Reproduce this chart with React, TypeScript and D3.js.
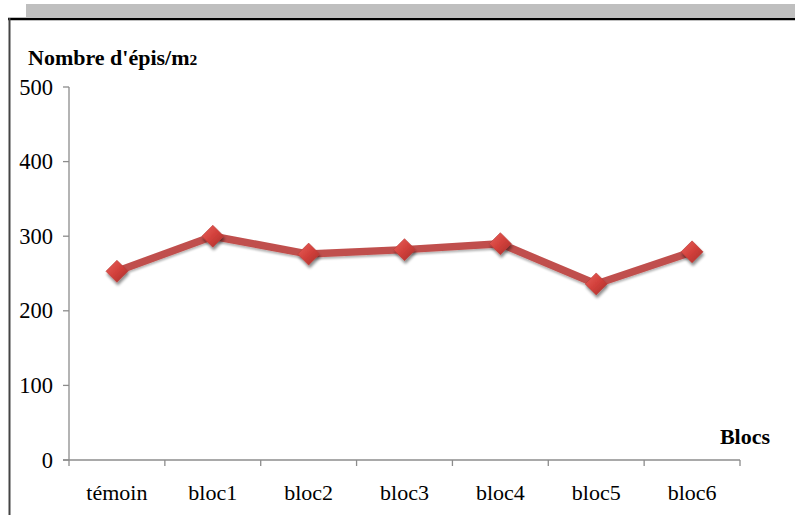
import React from "react";
import * as d3 from "d3";

const categories = ["témoin", "bloc1", "bloc2", "bloc3", "bloc4", "bloc5", "bloc6"];
const values = [253, 300, 276, 282, 290, 236, 279];
const yTicks = [0, 100, 200, 300, 400, 500];

export default function App() {
  const W = 795, H = 515;
  const x0 = 69, x1 = 740, yTop = 87, yBot = 460;
  const x = d3.scaleBand().domain(categories).range([x0, x1]);
  const y = d3.scaleLinear().domain([0, 500]).range([yBot, yTop]);
  const line = d3.line<number>()
    .x((_, i) => (x(categories[i]) as number) + x.bandwidth() / 2)
    .y((d) => y(d));
  const ticksX = categories.map((c) => x(c) as number).concat([x1]);
  const font = "'Liberation Serif', 'Times New Roman', serif";
  const ds = 11;
  return (
    <svg width={W} height={H} style={{ position: "absolute", left: 0, top: 0 }} fontFamily={font}>
      <defs>
        <linearGradient id="mk" x1="0" y1="0" x2="1" y2="1">
          <stop offset="0" stopColor="#e8625c" />
          <stop offset="0.5" stopColor="#d2403b" />
          <stop offset="1" stopColor="#a8302c" />
        </linearGradient>
        <filter id="sh" x="-50%" y="-50%" width="200%" height="200%">
          <feGaussianBlur in="SourceAlpha" stdDeviation="1.6" />
          <feOffset dx="1" dy="2.5" result="b" />
          <feComponentTransfer><feFuncA type="linear" slope="0.45" /></feComponentTransfer>
          <feMerge><feMergeNode /><feMergeNode in="SourceGraphic" /></feMerge>
        </filter>
        <filter id="lsh" x="-10%" y="-50%" width="120%" height="200%">
          <feGaussianBlur in="SourceAlpha" stdDeviation="1.2" />
          <feOffset dx="0" dy="1.5" result="b" />
          <feComponentTransfer><feFuncA type="linear" slope="0.3" /></feComponentTransfer>
          <feMerge><feMergeNode /><feMergeNode in="SourceGraphic" /></feMerge>
        </filter>
      </defs>
      <rect x={0} y={0} width={W} height={H} fill="#fff" />
      <rect x={26} y={4} width={W - 26} height={13} fill="#bfbfbf" />
      <line x1={8} x2={W} y1={19} y2={19} stroke="#000" strokeWidth={2.5} />
      <line x1={9.5} x2={9.5} y1={18} y2={H} stroke="#444" strokeWidth={2} />
      <text x={28} y={65} fontSize={22} fontWeight="bold" fill="#000">
        Nombre d'épis/m<tspan fontSize={15.5}>2</tspan>
      </text>
      <text x={770} y={444} fontSize={22} fontWeight="bold" textAnchor="end" fill="#000">Blocs</text>
      {/* y axis */}
      <line x1={x0} x2={x0} y1={yTop} y2={yBot} stroke="#8c8c8c" strokeWidth={1.3} />
      {yTicks.map((t) => (
        <g key={t}>
          <line x1={x0 - 6} x2={x0} y1={y(t)} y2={y(t)} stroke="#8c8c8c" strokeWidth={1.3} />
          <text x={53} y={y(t) + 7.5} fontSize={22.5} textAnchor="end" fill="#000">{t}</text>
        </g>
      ))}
      {/* x axis */}
      <line x1={x0 - 6} x2={x1} y1={yBot} y2={yBot} stroke="#8c8c8c" strokeWidth={1.3} />
      {ticksX.map((t, i) => (
        <line key={i} x1={t} x2={t} y1={yBot} y2={yBot + 6} stroke="#8c8c8c" strokeWidth={1.3} />
      ))}
      {categories.map((c) => (
        <text key={c} x={(x(c) as number) + x.bandwidth() / 2} y={500} fontSize={22} textAnchor="middle" fill="#000">{c}</text>
      ))}
      <path d={line(values) as string} fill="none" stroke="#c0504d" strokeWidth={7.5} strokeLinejoin="round" filter="url(#lsh)" />
      {values.map((v, i) => {
        const cx = (x(categories[i]) as number) + x.bandwidth() / 2;
        const cy = y(v);
        return (
          <path key={i} d={`M${cx},${cy - ds}L${cx + ds},${cy}L${cx},${cy + ds}L${cx - ds},${cy}Z`}
            fill="url(#mk)" stroke="#b83a36" strokeWidth={0.6} filter="url(#sh)" />
        );
      })}
    </svg>
  );
}
